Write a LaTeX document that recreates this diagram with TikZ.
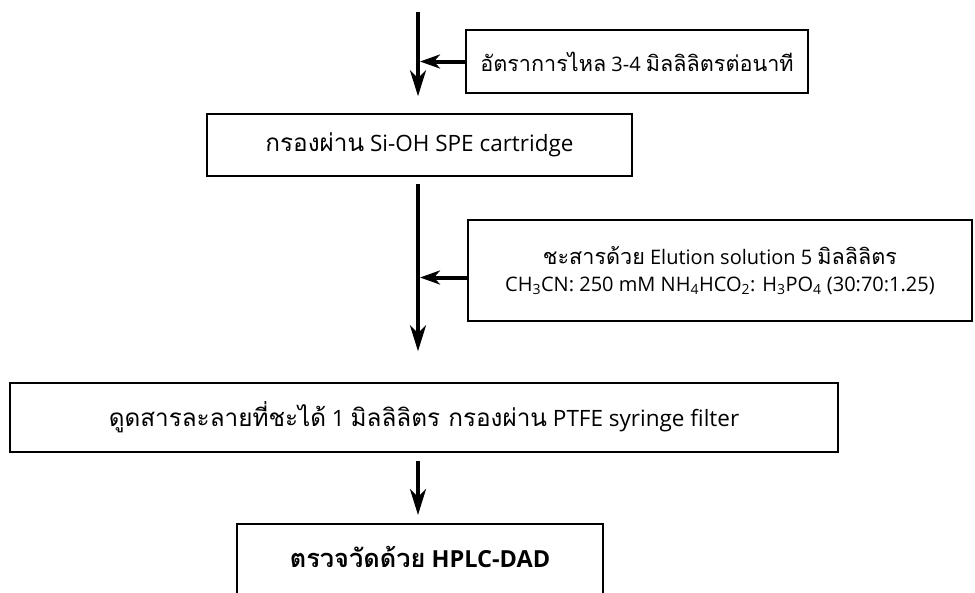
\documentclass[tikz,border=0pt]{standalone}
\usepackage{fontspec}
\setmainfont{Open Sans}
\newfontfamily\thaifont[Script=Thai, Scale=1.08]{Loma}
\usetikzlibrary{positioning, arrows.meta}
\tikzset{
    stepbox/.style={draw, line width=1.5pt, inner sep=0pt, align=center, font=\fontsize{20}{27}\selectfont},
    bigbox/.style={stepbox, font=\fontsize{22.5}{28}\selectfont},
    flow/.style={line width=4pt, -{Stealth[length=26pt, width=16pt, inset=8pt]}},
    feed/.style={line width=4pt, -{Stealth[length=20pt, width=14pt, inset=6pt]}}
}

\begin{document}
\begin{tikzpicture}[x=1pt, y=-1pt]
    \useasboundingbox (0,0) rectangle (975,592);
    \clip (0,0) rectangle (975,592);
    % boxes
    \node[stepbox, minimum width=342pt, minimum height=63pt] (rate) at (637,61.5)
        {{\thaifont อัตราการไหล} 3-4 {\thaifont มิลลิลิตรต่อนาที}};
    \node[bigbox, minimum width=425pt, minimum height=62pt] (spe) at (419.5,145)
        {{\thaifont กรองผ่าน} Si-OH SPE cartridge};
    \node[stepbox, minimum width=504pt, minimum height=101pt] (elute) at (720,270.5)
        {{\thaifont ชะสารด้วย} Elution solution 5 {\thaifont มิลลิลิตร}\\
         CH\textsubscript{3}CN: 250 mM NH\textsubscript{4}HCO\textsubscript{2}: H\textsubscript{3}PO\textsubscript{4} (30:70:1.25)};
    \node[bigbox, minimum width=828pt, minimum height=69pt] (filter) at (424,417.5)
        {{\thaifont ดูดสารละลายที่ชะได้} 1 {\thaifont มิลลิลิตร กรองผ่าน} PTFE syringe filter};
    \node[stepbox, font=\fontsize{23.5}{27}\selectfont\bfseries, anchor=north, minimum width=366pt,
          text height=44pt, text depth=60pt] (hplc) at (420,523)
        {{\thaifont ตรวจวัดด้วย} HPLC-DAD};
    % arrows
    \coordinate (start) at (418,12);
    \draw[flow] (start) -- ([yshift=17pt]spe.north -| start);
    \draw[feed] (rate.west) -- ([xshift=2pt]rate.west -| start);
    \draw[flow] ([yshift=-7pt]spe.south -| start) -- ([yshift=31pt]filter.north -| start);
    \draw[feed] ([yshift=-7pt]elute.west) -- ([yshift=-7pt, xshift=2pt]elute.west -| start);
    \draw[flow] ([yshift=-8pt]filter.south -| start) -- ([yshift=8pt]hplc.north -| start);
\end{tikzpicture}
\end{document}
